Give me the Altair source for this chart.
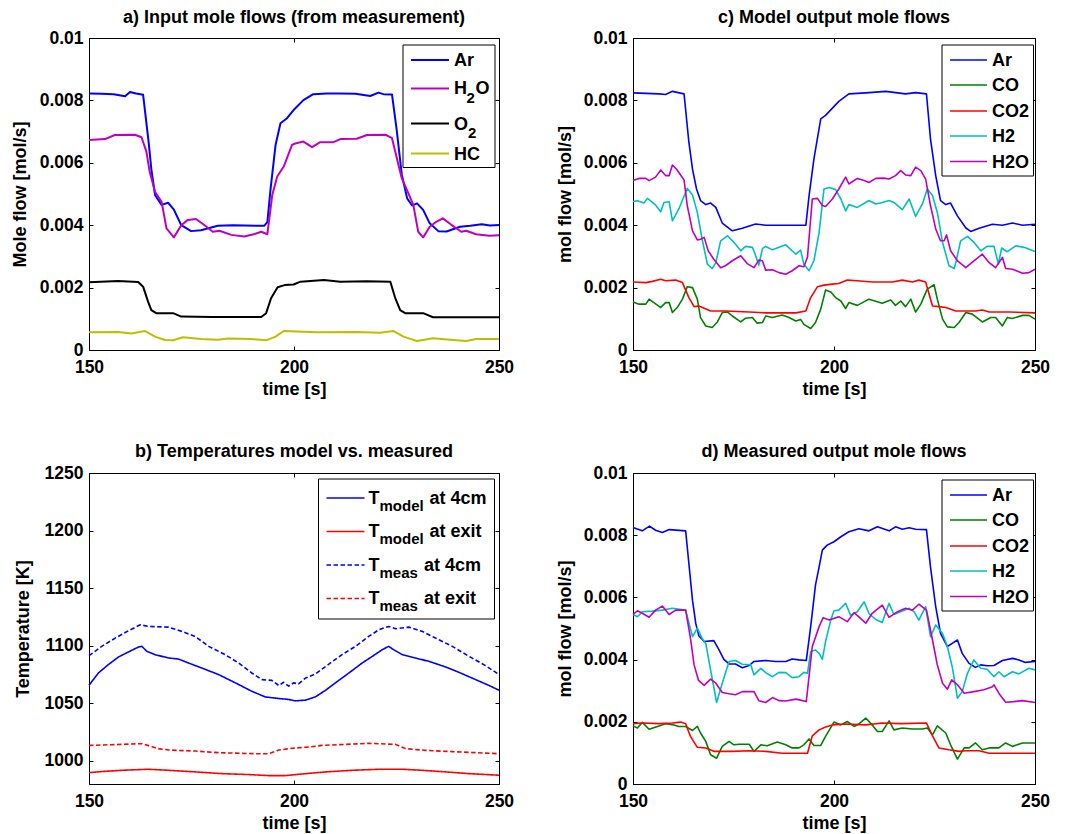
import altair as alt
import pandas as pd

FONT = "Liberation Sans"
T_TICKS = [150, 200, 250]
FLOW_TICKS = [0, 0.002, 0.004, 0.006, 0.008, 0.01]
TEMP_TICKS = [1000, 1050, 1100, 1150, 1200, 1250]
MMOL = 0.001  # flow values below are in units of 0.001 mol/s

# ---------------- a) input mole flows ----------------
A_NAMES = ["Ar", "H2O", "O2", "HC"]
A_COLORS = ["#0000FF", "#BF00BF", "#000000", "#BFBF00"]
A_AR = [(150,8.22),(153,8.21),(156,8.2),(158.8,8.13),(160,8.27),(161.5,8.22),(163.2,8.18),(164.6,6.6),(165.2,5.8),(166.1,4.97),(167.7,4.65),(169.3,4.72),(170.7,4.5),(172.5,4.0),(174.9,3.81),(177.3,3.84),(181.4,3.98),(185,4.0),(188,3.99),(192.7,3.98),(193.5,4.1),(194.3,5.18),(195.5,6.57),(196.7,7.27),(198.3,7.43),(199.9,7.69),(202.3,8.01),(204.7,8.2),(208,8.22),(211.3,8.22),(215,8.21),(218.6,8.14),(220.6,8.25),(221.8,8.2),(223.9,8.19),(225,7.1),(226.3,5.61),(227.6,4.86),(228.8,4.63),(230,4.7),(231.5,4.49),(233.1,4.06),(235.2,3.81),(237.2,3.8),(240.5,3.95),(243,3.98),(245.8,4.03),(247.8,3.99),(250,4.01)]
A_H2O = [(150,6.73),(153.9,6.76),(156.3,6.89),(161.2,6.9),(162.8,6.82),(164,6.36),(164.8,5.71),(166.1,5.07),(167.7,4.75),(168.9,3.9),(170.7,3.61),(172.5,4.0),(174.1,4.17),(176.1,4.2),(178.2,4.0),(180.2,3.79),(181.8,3.82),(184.7,3.69),(187.9,3.64),(190.4,3.72),(192,3.79),(193.5,3.71),(194.7,4.97),(195.9,5.56),(197.5,5.88),(199.5,6.57),(200.3,6.62),(202.3,6.68),(204.4,6.5),(206.4,6.66),(209.6,6.66),(211.3,6.76),(215.3,6.77),(217.8,6.89),(222.3,6.9),(223.9,6.79),(225.1,6.14),(226.3,5.5),(227.9,5.02),(229.1,4.65),(230.3,3.79),(231.5,3.61),(233.1,3.95),(234.7,4.11),(236.3,4.22),(238.3,4.02),(240.8,3.79),(242,3.82),(244.4,3.71),(247.6,3.66),(250,3.68)]
A_O2 = [(150,2.17),(157.1,2.21),(162,2.18),(163.2,2.03),(164.4,1.55),(165.2,1.28),(166.4,1.18),(170.5,1.18),(172.5,1.07),(180,1.06),(192,1.06),(193.2,1.18),(194.4,1.66),(196,2.01),(197.7,2.08),(199.9,2.1),(201.6,2.19),(207.3,2.24),(211.3,2.19),(217.8,2.2),(223.5,2.19),(224.7,1.66),(225.9,1.28),(227.1,1.18),(231.5,1.18),(233.9,1.05),(250,1.05)]
A_HC = [(150,0.57),(157.1,0.58),(160.4,0.53),(163.6,0.61),(166.1,0.43),(168.5,0.32),(170.5,0.31),(172.9,0.41),(177.4,0.35),(181.4,0.33),(183.9,0.37),(189.5,0.35),(193.2,0.31),(195.5,0.43),(197.5,0.61),(205.6,0.57),(215.3,0.58),(221,0.55),(224.2,0.61),(226.7,0.43),(230,0.29),(233.9,0.38),(238,0.33),(242,0.29),(244.4,0.35),(250,0.35)]

# ---------------- b) temperatures ----------------
B_NAMES = ["Tmodel 4cm", "Tmodel exit", "Tmeas 4cm", "Tmeas exit"]
B_COLORS = ["#0000FF", "#FF0000", "#0000FF", "#FF0000"]
B_MOD4 = [(150,1065.7),(152.3,1076.4),(154.7,1083.6),(157.2,1090.3),(159.6,1094.6),(162.1,1099),(162.9,1099.5),(164.1,1095.2),(166.1,1092.3),(169.4,1089.4),(171.8,1088.5),(174.3,1085),(177.5,1080.7),(181.6,1075),(185.7,1067.8),(189.7,1060.5),(193,1055.6),(196.3,1054.2),(198.7,1053.4),(200.3,1052.2),(202.8,1052.8),(205.2,1055.6),(207.7,1061.4),(210.1,1067.8),(213.4,1076.4),(216.6,1085),(219.1,1090.8),(221.5,1096.6),(223.1,1099.5),(224.3,1096.6),(226.4,1092.3),(229.6,1089.4),(232.9,1086.5),(237,1081.6),(240.2,1077),(244.3,1070.6),(247.6,1065.5),(250,1061.4)]
B_MODX = [(150,989.9),(153.1,990.8),(158,991.9),(164.5,992.8),(169.4,991.9),(175.9,990.5),(182.4,989),(188.9,988.2),(193.8,987.3),(197.9,987.3),(202,988.7),(207.7,990.5),(214.2,991.9),(220.7,992.8),(226.4,992.8),(231.3,991.9),(237,990.5),(242.7,989),(250,987.6)]
B_MEAS4 = [(150,1091.4),(153.1,1099.5),(156.4,1106.7),(159.6,1113),(162.5,1118.2),(164.5,1116.8),(169.4,1116.2),(172.6,1112.5),(175.9,1108.1),(179.2,1099.5),(183.2,1092.3),(186.5,1085),(189.7,1076.4),(192.2,1070.6),(194.6,1070),(196.3,1065.5),(197.5,1068.3),(198.7,1064.9),(199.9,1067.8),(201.1,1066.9),(202.8,1072),(205.2,1075.5),(208.5,1084.1),(211.7,1092.3),(215,1099.5),(218.2,1108.1),(220.7,1113.9),(223.1,1116.8),(224.8,1114.8),(228,1116.2),(231.3,1112.5),(234.5,1106.7),(238.6,1099.5),(242.7,1090.8),(246.7,1082.8),(250,1075)]
B_MEASX = [(150,1013.5),(162.9,1015),(166.9,1010.7),(169.4,1009.5),(175.9,1008.6),(181.6,1007.2),(190.6,1006.3),(193.8,1006.3),(196.3,1009.5),(199.5,1011),(203.6,1012.1),(206.8,1013.5),(212.5,1014.4),(218.2,1015.3),(224.8,1014.4),(227.2,1010.7),(232.1,1009.2),(238.6,1008.1),(244.3,1007.2),(250,1006.3)]

# ---------------- c) model output / d) measured output ----------------
CD_NAMES = ["Ar", "CO", "CO2", "H2", "H2O"]
CD_COLORS = ["#0000FF", "#008000", "#FF0000", "#00BFBF", "#BF00BF"]
C_AR = [(150,8.24),(156.5,8.21),(158.1,8.19),(159.8,8.29),(162.7,8.21),(163.9,6.66),(164.8,5.8),(165.8,5.16),(166.8,4.79),(168.1,4.66),(169.3,4.71),(170.6,4.57),(172.2,4.07),(174.7,3.82),(177.2,3.9),(180.5,4.04),(183,4.0),(188,4.0),(193,4.0),(193.8,4.95),(195,6.12),(196.7,7.41),(197.9,7.52),(201.2,7.97),(203.7,8.21),(207.9,8.24),(212.9,8.29),(217.8,8.21),(220.3,8.25),(223,8.21),(224,6.77),(225.3,5.59),(226.5,4.79),(227.8,4.66),(229,4.71),(230.7,4.3),(232.8,3.91),(234,3.8),(236.1,3.9),(239.4,4.03),(241.9,4.0),(244.4,4.07),(246.9,4.0),(250,4.03)]
C_CO = [(150,1.54),(151.5,1.47),(153.2,1.47),(154,1.63),(155.2,1.52),(156.9,1.36),(158.1,1.52),(159,1.52),(159.8,1.2),(161,1.36),(162.3,1.63),(163.5,2.03),(164.8,2.0),(166,1.63),(166.8,1.04),(168.1,0.77),(169.7,0.72),(171,0.9),(172.2,1.2),(173.5,1.22),(174.7,1.09),(176.8,0.9),(178,1.02),(179.7,1.04),(180.9,0.86),(182.2,0.88),(183,1.09),(184.7,1.04),(187.1,1.12),(188.8,1.04),(190.5,0.93),(191.7,0.98),(192.5,0.82),(194.2,0.69),(195.4,0.88),(196.7,1.31),(197.9,1.92),(199.2,1.86),(200.4,1.68),(201.7,1.57),(202.9,1.33),(203.7,1.52),(205.8,1.43),(208.7,1.63),(212,1.5),(214.1,1.6),(215.3,1.43),(216.6,1.57),(217.8,1.39),(219.1,1.63),(220.3,1.22),(221.6,1.47),(223.2,1.95),(224.9,2.09),(225.7,1.63),(227,0.99),(228.2,0.74),(229.9,0.72),(231.1,0.88),(232.8,1.2),(234.4,1.15),(236.9,0.9),(239,1.04),(240.2,1.04),(241.9,0.77),(243.1,1.04),(244.4,1.01),(246.9,1.11),(248.5,1.11),(250,0.99)]
C_CO2 = [(150,2.18),(153.2,2.16),(154.8,2.2),(156.9,2.27),(158.1,2.22),(160.6,2.24),(162.3,2.16),(163.9,1.68),(165.2,1.39),(166.4,1.41),(169.3,1.25),(173,1.25),(178.9,1.22),(183,1.19),(190.5,1.19),(193,1.25),(194.2,1.68),(195.9,2.03),(197.5,2.08),(199.6,2.11),(201.2,2.13),(203.3,2.24),(205.8,2.22),(209.5,2.18),(214.5,2.18),(217,2.24),(219.5,2.18),(221.1,2.24),(222.8,2.18),(224.5,1.41),(226.1,1.39),(227.8,1.36),(230.3,1.25),(235.2,1.25),(236.9,1.28),(238.6,1.22),(243.5,1.22),(250,1.19)]
C_H2 = [(150,4.76),(151.1,4.78),(152.7,4.71),(153.6,4.86),(155.6,4.65),(156.9,4.43),(157.7,4.73),(159,4.75),(159.8,4.14),(161.4,4.52),(163.5,5.18),(164.8,4.97),(166,4.41),(167.2,3.55),(168.5,2.75),(169.7,2.61),(170.6,2.8),(171.8,3.5),(173.5,3.66),(175.1,3.45),(176.8,3.18),(178,3.32),(179.7,3.29),(180.3,3.1),(181.3,2.72),(182.2,3.25),(183,3.32),(184.7,3.21),(186.3,3.29),(188,3.37),(190.5,3.07),(191.7,3.2),(192.5,2.75),(193.8,2.54),(195,2.86),(196.3,3.77),(197.5,5.16),(198.8,5.21),(200.4,5.14),(201.7,4.84),(202.9,4.46),(203.7,4.66),(205.8,4.57),(208.7,4.79),(210.4,4.68),(212,4.73),(213.7,4.79),(214.9,4.73),(217,4.5),(218.7,4.84),(220.3,4.28),(222,4.68),(223.2,5.16),(224.5,4.95),(225.7,4.41),(227,3.45),(228.6,2.7),(229.9,2.61),(230.3,2.8),(231.5,3.5),(233.2,3.64),(234.8,3.45),(236.5,3.18),(238.1,3.32),(239.8,3.32),(240.9,2.75),(241.7,3.27),(243.1,3.15),(245.2,3.34),(247.3,3.29),(250,3.16)]
C_H2O = [(150,5.43),(151.5,5.5),(153.2,5.5),(154,5.43),(155.6,5.54),(156.9,5.77),(158.1,5.59),(159,5.59),(159.8,5.93),(160.8,5.8),(162.7,5.45),(163.5,4.63),(164.8,3.82),(166,3.53),(166.8,3.55),(167.7,3.61),(168.7,3.18),(170.1,2.91),(171.8,2.64),(173,2.7),(174.7,2.86),(176.8,3.02),(178.4,2.77),(180.1,2.64),(181.3,2.88),(182.2,2.86),(183,2.56),(184.7,2.57),(186.3,2.48),(188,2.43),(189.6,2.54),(191.3,2.7),(192.5,2.67),(193.4,2.97),(194.6,4.84),(195.9,4.86),(197.1,4.63),(197.9,4.6),(199.6,4.84),(201.2,5.16),(202.9,5.54),(203.7,5.32),(205.8,5.5),(207.5,5.43),(208.7,5.37),(210.4,5.5),(212.4,5.51),(213.7,5.48),(215.3,5.59),(216.6,5.75),(217.8,5.61),(219.1,5.59),(220.3,5.86),(221.6,5.75),(222.8,5.48),(224,4.63),(225.3,3.88),(226.5,3.5),(227.4,3.5),(228,3.69),(229,3.18),(230.7,2.86),(232.8,2.64),(234.8,2.86),(236.9,3.07),(238.6,2.8),(240.2,2.64),(241.9,2.97),(242.7,2.61),(244.4,2.59),(246.9,2.46),(248.5,2.48),(250,2.59)]

D_AR = [(150,8.25),(152.3,8.14),(154.1,8.29),(155.6,8.16),(157.3,8.09),(159,8.18),(163.1,8.14),(163.9,7.09),(164.8,5.91),(165.6,5.17),(166.4,4.76),(167.7,4.58),(170.1,4.61),(171.4,4.31),(172.6,4.01),(173.9,3.86),(175.5,3.86),(177.2,3.74),(178.9,3.81),(180.1,3.94),(183,3.97),(185.5,3.94),(188,3.94),(189.6,4.02),(191.3,3.99),(193.1,3.97),(194.2,5.06),(195.4,6.4),(196.3,6.98),(197.1,7.52),(198.3,7.68),(200,7.79),(201.7,7.95),(203.7,8.11),(206.2,8.21),(208.7,8.14),(210.8,8.27),(213.7,8.14),(215.3,8.27),(217,8.19),(218.7,8.24),(220.3,8.19),(223,8.18),(224,6.98),(225.3,5.7),(226.5,4.84),(228.2,4.42),(229.4,4.52),(230.7,4.63),(231.9,4.2),(233.6,3.88),(235.2,3.75),(236.5,3.83),(238.1,3.8),(239.8,3.81),(241.9,3.97),(244.4,4.04),(246,3.99),(247.6,3.91),(250,3.94)]
D_CO = [(150,1.87),(151.1,1.8),(152.3,1.98),(154,1.76),(156.1,1.85),(158.1,1.94),(159.8,1.91),(161.4,1.85),(163.1,1.85),(164.8,1.72),(166,1.85),(166.8,1.64),(168.1,1.37),(169.3,0.94),(170.8,0.83),(172.2,1.21),(173.9,1.37),(175.1,1.26),(176.4,1.28),(178.9,1.28),(180.1,1.05),(181.8,1.26),(183.4,1.23),(185.9,1.35),(188,1.26),(189.6,1.16),(191.3,1.16),(192.5,1.26),(193.8,1.45),(195,1.24),(196.7,1.24),(197.9,1.53),(200,1.99),(201.7,1.9),(203.3,2.01),(205,1.85),(206.2,1.93),(207.9,2.12),(209.5,1.9),(210.8,1.69),(212,1.69),(213.7,2.03),(214.9,1.74),(217,1.8),(219.5,1.77),(222,1.77),(223.2,1.8),(224.5,1.58),(225.7,1.87),(227.8,1.64),(229,1.26),(230.7,0.8),(232.4,1.16),(233.6,1.16),(235.2,1.32),(236.9,1.1),(238.6,1.16),(241,1.16),(242.7,1.32),(244.4,1.21),(246.9,1.32),(250,1.32)]
D_CO2 = [(150,1.94),(152.3,1.96),(156.5,1.94),(159.8,1.96),(161.9,1.99),(163.1,1.94),(164.3,1.53),(166,1.18),(168.1,1.16),(170.1,1.05),(174.7,1.05),(178.9,1.07),(183,1.05),(187.1,0.99),(191.3,0.99),(193.4,0.99),(194.6,1.55),(196.3,1.74),(197.9,1.83),(199.6,1.9),(202.9,1.93),(207.9,1.9),(212,1.96),(216.6,1.94),(223,1.96),(224.5,1.55),(226.1,1.16),(228.6,1.1),(231.1,1.05),(232.8,1.07),(236.1,1.07),(238.6,0.99),(243.5,0.99),(250,0.99)]
D_H2 = [(150,5.45),(151.1,5.38),(152.3,5.54),(154.8,5.56),(157.3,5.59),(159.8,5.65),(163.1,5.59),(164.8,4.74),(166,5.01),(167.2,4.68),(168.1,4.52),(169.3,3.67),(170.8,2.62),(172.2,3.24),(173.9,3.94),(175.5,3.97),(177.2,3.85),(179.3,3.83),(180.1,3.51),(181.8,3.72),(183,3.58),(184.7,3.45),(186.3,3.59),(188,3.58),(189.6,3.42),(191.3,3.45),(192.5,3.59),(193.4,3.56),(194.2,4.26),(195.4,4.31),(196.3,4.2),(197.1,4.01),(197.9,4.58),(199.2,5.27),(200,5.57),(201.2,5.59),(202.9,5.81),(204.1,5.43),(205.8,5.54),(207.5,5.86),(208.7,5.48),(210.4,5.29),(212,5.19),(213.7,5.81),(214.9,5.45),(217,5.56),(218.7,5.65),(219.9,5.54),(221.1,5.27),(222.8,5.7),(224,4.74),(225.3,5.11),(227,4.84),(228.2,4.42),(229.4,3.78),(230.7,2.76),(231.9,2.97),(233.2,3.56),(234.8,3.99),(236.5,3.72),(238.1,3.69),(239.8,3.45),(241,3.61),(242.3,3.45),(244.4,3.61),(246,3.54),(248.5,3.72),(250,3.67)]
D_H2O = [(150,5.45),(151.1,5.57),(152.3,5.49),(154,5.36),(155.6,5.59),(157.3,5.72),(159,5.45),(160.6,5.59),(163.1,5.59),(164.3,4.68),(165.2,3.83),(166.3,3.33),(167.7,3.17),(169.3,3.37),(170.6,3.24),(172.2,2.94),(173.9,2.9),(175.5,2.87),(177.2,2.97),(180.1,2.97),(181.3,2.68),(183,2.62),(184.7,2.78),(186.3,2.68),(188,2.67),(190.5,2.73),(193.1,2.65),(194.6,4.42),(196.3,5.06),(197.3,5.35),(198.8,5.27),(201.2,5.38),(203.3,5.22),(205,5.51),(207.9,5.17),(209.5,5.49),(212,5.75),(213.7,5.36),(215.8,5.54),(217.8,5.65),(219.5,5.59),(221.1,5.78),(223,5.59),(224.5,4.63),(225.7,3.83),(227,3.24),(228.2,3.05),(229.3,3.35),(230.7,3.19),(232.4,2.92),(234.8,2.97),(237.3,3.03),(239.4,3.13),(239.8,3.19),(241,2.92),(242.7,2.63),(244.7,2.65),(246.9,2.68),(250,2.62)]

ONE = pd.DataFrame({"k": [0]})


def long_df(series, names, scale=1.0):
    rows = []
    for name, pts in zip(names, series):
        for t, v in pts:
            rows.append({"t": t, "v": v * scale, "s": name})
    return pd.DataFrame(rows)


def x_bottom():
    return alt.Axis(orient="bottom", values=T_TICKS, offset=-4, domain=False,
                    tickSize=4, tickColor="black", tickWidth=1, grid=False,
                    labelFont=FONT, labelFontSize=17.5, labelFontWeight="bold",
                    labelColor="black", labelPadding=8, labelOverlap=False,
                    labelFlush=False, title="time [s]", titleFont=FONT,
                    titleFontSize=18, titleFontWeight="bold", titleColor="black",
                    titlePadding=8, minExtent=26, maxExtent=26)


def x_top():
    return alt.Axis(orient="top", values=T_TICKS, offset=-4, domain=False,
                    tickSize=4, tickColor="black", tickWidth=1, grid=False,
                    labels=False, title=None, minExtent=0, maxExtent=0)


def y_left(ticks, fmt, title, gap):
    return alt.Axis(orient="left", values=ticks, format=fmt, offset=-4,
                    domain=False, tickSize=4, tickColor="black", tickWidth=1,
                    grid=False, labelFont=FONT, labelFontSize=17.5,
                    labelFontWeight="bold", labelColor="black", labelPadding=6,
                    labelOverlap=False, labelFlush=False, title=title,
                    titleFont=FONT, titleFontSize=18, titleFontWeight="bold",
                    titleColor="black", titlePadding=gap - 50, minExtent=50,
                    maxExtent=50)


def y_right(ticks):
    return alt.Axis(orient="right", values=ticks, offset=-4, domain=False,
                    tickSize=4, tickColor="black", tickWidth=1, grid=False,
                    labels=False, title=None, minExtent=0, maxExtent=0)


def box(x1, x2, y1, y2):
    return alt.Chart(ONE).mark_rect(fill="white", stroke="black", strokeWidth=1).encode(
        x=alt.value(x1), x2=alt.value(x2), y=alt.value(y1), y2=alt.value(y2))


def sample(x1, x2, y, color, sw, dash=None):
    kw = dict(color=color, strokeWidth=sw)
    if dash:
        kw["strokeDash"] = dash
    return alt.Chart(ONE).mark_rule(**kw).encode(
        x=alt.value(x1), x2=alt.value(x2), y=alt.value(y))


def label(x, y, txt, size=18, align="left"):
    return alt.Chart(ONE).mark_text(text=txt, align=align, baseline="alphabetic",
                                    font=FONT, fontSize=size, fontWeight="bold",
                                    color="black").encode(x=alt.value(x), y=alt.value(y))


def panel(df, names, colors, ydom, yticks, yfmt, ytitle, ygap, title, title_y, w, h, sw,
          legend, dashes=None):
    xs = alt.Scale(domain=[150, 250], nice=False, zero=False)
    ys = alt.Scale(domain=ydom, nice=False, zero=False)
    enc = dict(
        x=alt.X("t:Q", scale=xs, axis=x_bottom()),
        y=alt.Y("v:Q", scale=ys, axis=y_left(yticks, yfmt, ytitle, ygap)),
        color=alt.Color("s:N", scale=alt.Scale(domain=names, range=colors), legend=None),
    )
    if dashes:
        enc["strokeDash"] = alt.StrokeDash("s:N", scale=alt.Scale(domain=names, range=dashes),
                                           legend=None)
    lines = alt.Chart(df).mark_line(strokeWidth=sw, strokeJoin="round").encode(**enc)
    dummy = alt.Chart(pd.DataFrame({"t": [150], "v": [ydom[0]]})).mark_point(opacity=0).encode(
        x=alt.X("t:Q", scale=xs, axis=x_top()),
        y=alt.Y("v:Q", scale=ys, axis=y_right(yticks)))
    ttl = label(w / 2, title_y, title, 18, "center")
    return alt.layer(lines, *legend, ttl, dummy).properties(width=w, height=h)


# ---- legends (pixel layout inside each plot area) ----
def legend_a():
    L = 314
    ys = [22, 50.5, 85.5, 115.5]
    out = [box(L, L + 92, 7, 129.5)]
    for y, c in zip(ys, A_COLORS):
        out.append(sample(L + 8, L + 46, y, c, 2))
    tx = L + 51
    out += [label(tx, ys[0] + 6.3, "Ar"),
            label(tx, ys[1] + 5.5, "H"), label(tx + 12.5, ys[1] + 14, "2", 15),
            label(tx + 21.5, ys[1] + 5.5, "O"),
            label(tx, ys[2] + 6, "O"), label(tx + 14, ys[2] + 14, "2", 15),
            label(tx, ys[3] + 6.3, "HC")]
    return out


def legend_b():
    L = 229.5
    ys = [25, 58.5, 92, 125.5]
    out = [box(L, L + 176, 6, 146)]
    dashes = [None, None, [4.5, 2.5], [4.5, 2.5]]
    for y, c, d in zip(ys, B_COLORS, dashes):
        out.append(sample(L + 8, L + 46, y, c, 1.6, d))
    tx = L + 50
    subs = ["model", "model", "meas", "meas"]
    rests = ["at 4cm", "at exit", "at 4cm", "at exit"]
    shifts = [61, 61, 55.5, 55.5]
    for y, sub, rest, sh in zip(ys, subs, rests, shifts):
        out += [label(tx, y + 5.5, "T"), label(tx + 11, y + 12.5, sub, 15),
                label(tx + sh, y + 5.5, rest)]
    return out


def legend_cd():
    L = 309
    ys = [22, 47, 73, 98, 123.5]
    out = [box(L, L + 91.5, 7, 138)]
    for y, c in zip(ys, CD_COLORS):
        out.append(sample(L + 8, L + 45, y, c, 1.6))
    for y, n in zip(ys, CD_NAMES):
        out.append(label(L + 50, y + 6.3, n))
    return out


df_a = long_df([A_AR, A_H2O, A_O2, A_HC], A_NAMES, MMOL)
df_b = long_df([B_MOD4, B_MODX, B_MEAS4, B_MEASX], B_NAMES)
df_c = long_df([C_AR, C_CO, C_CO2, C_H2, C_H2O], CD_NAMES, MMOL)
df_d = long_df([D_AR, D_CO, D_CO2, D_H2, D_H2O], CD_NAMES, MMOL)

pa = panel(df_a, A_NAMES, A_COLORS, [0, 0.01], FLOW_TICKS, "~g", "Mole flow [mol/s]", 64,
           "a) Input mole flows (from measurement)", -14.7, 410, 312, 2, legend_a())
pc = panel(df_c, CD_NAMES, CD_COLORS, [0, 0.01], FLOW_TICKS, "~g", "mol flow [mol/s]", 63,
           "c) Model output mole flows", -14.7, 402, 312, 1.6, legend_cd())
pb = panel(df_b, B_NAMES, B_COLORS, [980, 1250], TEMP_TICKS, "d", "Temperature [K]", 61,
           "b) Temperatures model vs. measured", -16.5, 410, 311, 1.6, legend_b(),
           dashes=[[1, 0], [1, 0], [4.5, 2.5], [4.5, 2.5]])
pd_ = panel(df_d, CD_NAMES, CD_COLORS, [0, 0.01], FLOW_TICKS, "~g", "mol flow [mol/s]", 63,
            "d) Measured output mole flows", -16.5, 402, 311, 1.6, legend_cd())

chart = alt.concat(pa, pc, pb, pd_, columns=2, spacing={"row": 123, "column": 134},
                   bounds="flush").resolve_scale(
    color="independent", strokeDash="independent").configure_view(
    stroke="black", strokeWidth=1).properties(
    padding={"left": 2, "top": 0, "right": 5, "bottom": 5})

chart.save("out.html", embed_options={"renderer": "svg", "actions": False})
